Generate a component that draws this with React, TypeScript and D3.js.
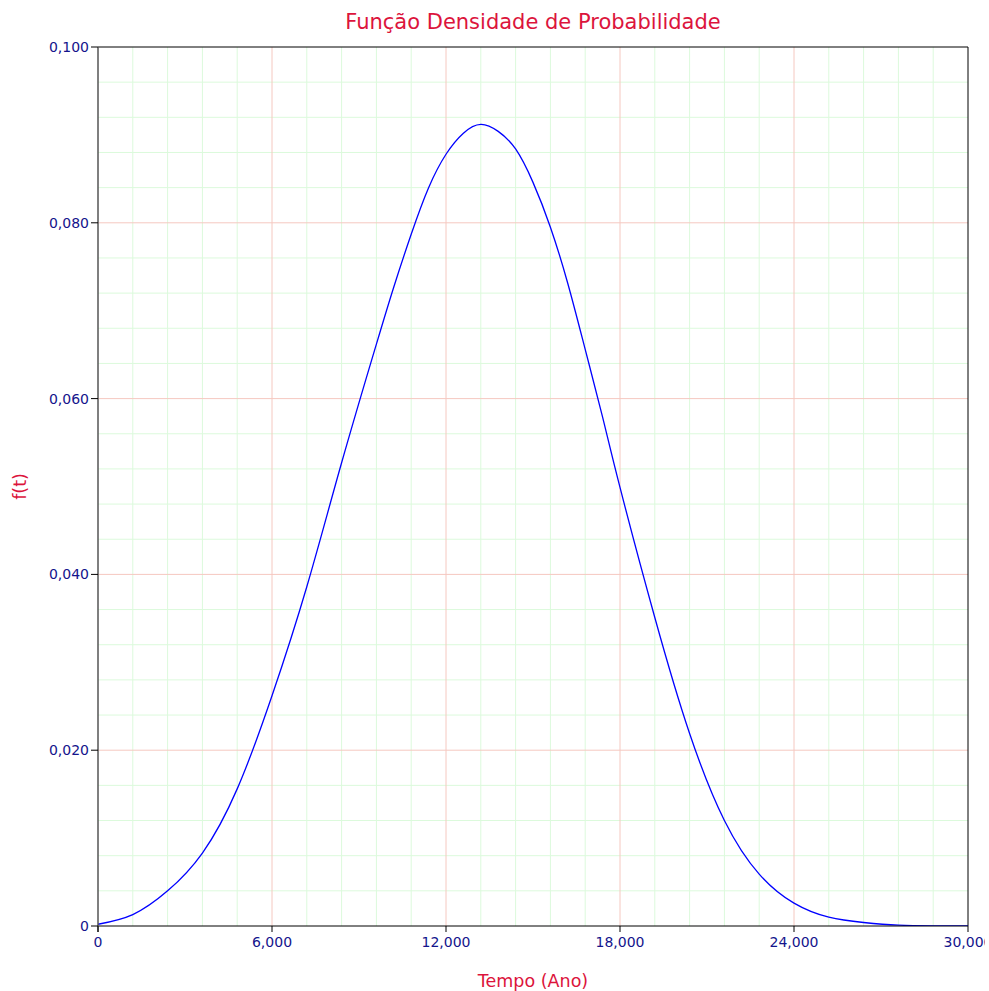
import React from "react";
import * as d3 from "d3";

const tValues = [0, 1.2, 2.4, 3.6, 4.8, 6.0, 7.2, 8.4, 9.6, 10.2, 10.8, 11.4, 12.0, 12.6, 13.2, 13.8, 14.4, 15.0, 15.6, 16.2, 16.8, 17.4, 18.0, 19.2, 20.4, 21.6, 22.8, 24.0, 25.2, 26.4, 27.6, 28.8, 30];
const fValues = [0.0002, 0.0013, 0.004, 0.0083, 0.0156, 0.0262, 0.0386, 0.0527, 0.0662, 0.0727, 0.0787, 0.084, 0.0878, 0.0902, 0.0912, 0.0904, 0.0884, 0.0846, 0.0795, 0.0731, 0.0656, 0.0579, 0.0499, 0.0351, 0.0219, 0.012, 0.0059, 0.0026, 0.001, 0.0004, 0.0001, 0.00002, 0.0];

const xMajorTicks = [0, 6, 12, 18, 24, 30];
const xTickLabels = ["0", "6,000", "12,000", "18,000", "24,000", "30,000"];
const yMajorTicks = [0, 0.02, 0.04, 0.06, 0.08, 0.1];
const yTickLabels = ["0", "0,020", "0,040", "0,060", "0,080", "0,100"];

const titleText = "Função Densidade de Probabilidade";
const xLabelText = "Tempo (Ano)";
const yLabelText = "f(t)";

export default function App() {
  const W = 985, H = 991;
  const left = 98, right = 968, top = 47, bottom = 926;
  const x = d3.scaleLinear().domain([0, 30]).range([left, right]);
  const y = d3.scaleLinear().domain([0, 0.1]).range([bottom, top]);
  const xMinor = d3.range(0, 25).map((i) => i * 1.2).filter((v) => v > 0 && Math.abs(v / 6 - Math.round(v / 6)) > 1e-6);
  const yMinor = d3.range(0, 25).map((i) => i * 0.004).filter((v) => v > 0 && v < 0.1 && Math.abs(v / 0.02 - Math.round(v / 0.02)) > 1e-6);
  const data = tValues.map((t, i) => [t, fValues[i]] as [number, number]);
  const line = d3.line<[number, number]>().x((d) => x(d[0])).y((d) => y(d[1])).curve(d3.curveNatural);
  const font = "'DejaVu Sans', Verdana, sans-serif";
  const red = "#dc143c";
  const navy = "#14148c";
  return (
    <svg width={W} height={H} style={{ position: "absolute", left: 0, top: 0, background: "#fff" }} fontFamily={font}>
      <rect x={0} y={0} width={W} height={H} fill="#fff" />
      <defs>
        <clipPath id="plotclip">
          <rect x={left} y={top} width={right - left} height={bottom - top} />
        </clipPath>
      </defs>
      {xMinor.map((v) => (
        <line key={"xm" + v} x1={x(v)} x2={x(v)} y1={top} y2={bottom} stroke="#dcfadc" strokeWidth={1} />
      ))}
      {yMinor.map((v) => (
        <line key={"ym" + v} x1={left} x2={right} y1={y(v)} y2={y(v)} stroke="#dcfadc" strokeWidth={1} />
      ))}
      {xMajorTicks.slice(1, -1).map((v) => (
        <line key={"xM" + v} x1={x(v)} x2={x(v)} y1={top} y2={bottom} stroke="#f5c8c0" strokeWidth={1} />
      ))}
      {yMajorTicks.slice(1, -1).map((v) => (
        <line key={"yM" + v} x1={left} x2={right} y1={y(v)} y2={y(v)} stroke="#f5c8c0" strokeWidth={1} />
      ))}
      <line x1={left} x2={right} y1={top} y2={top} stroke="#000" strokeWidth={1} />
      <line x1={right} x2={right} y1={top} y2={bottom} stroke="#000" strokeWidth={1} />
      <path d={line(data) || ""} fill="none" stroke="#0000ff" strokeWidth={1.3} clipPath="url(#plotclip)" />
      <line x1={left} x2={right} y1={bottom} y2={bottom} stroke="#000" strokeWidth={1} />
      <line x1={left} x2={left} y1={top} y2={bottom + 6} stroke="#555" strokeWidth={1.5} />
      {yMajorTicks.map((v, i) => (
        <g key={"yt" + v}>
          <line x1={left - 7} x2={left} y1={y(v)} y2={y(v)} stroke="#000" strokeWidth={1} />
          <text x={left - 9} y={y(v)} dy="0.35em" textAnchor="end" fontSize={14} fill={navy}>{yTickLabels[i]}</text>
        </g>
      ))}
      {xMajorTicks.map((v, i) => (
        <g key={"xt" + v}>
          <line x1={x(v)} x2={x(v)} y1={bottom} y2={bottom + 6} stroke="#000" strokeWidth={1} />
          <text x={x(v)} y={bottom + 21} textAnchor="middle" fontSize={14} fill={navy}>{xTickLabels[i]}</text>
        </g>
      ))}
      <text x={(left + right) / 2} y={29} textAnchor="middle" fontSize={21} fill={red}>{titleText}</text>
      <text x={(left + right) / 2} y={987} textAnchor="middle" fontSize={17.5} fill={red}>{xLabelText}</text>
      <text transform={`translate(26,${(top + bottom) / 2}) rotate(-90)`} textAnchor="middle" fontSize={17.5} fill={red}>{yLabelText}</text>
    </svg>
  );
}
